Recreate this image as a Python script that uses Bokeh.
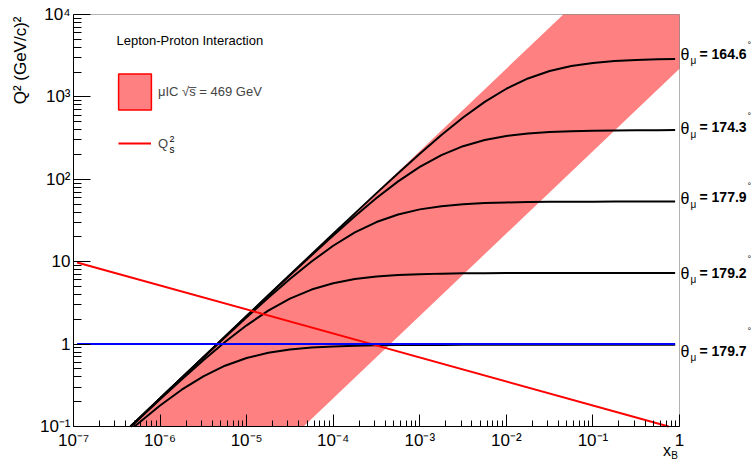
from bokeh.plotting import figure
from bokeh.models import (Range1d, FixedTicker, CustomJSTickFormatter, Label, Legend,
                          LegendItem, BoxAnnotation)
from bokeh.embed import file_html
from bokeh.resources import INLINE

# ---------------- data ----------------
# common x samples of the fixed-angle curves (after their first point at Q^2 = 0.1)
x_tail = [5.623e-7, 1.0e-6, 1.778e-6, 3.162e-6, 5.623e-6, 1.0e-5, 1.778e-5,
          3.162e-5, 5.623e-5, 1.0e-4, 1.778e-4, 3.162e-4, 5.623e-4, 1.0e-3, 1.778e-3,
          3.162e-3, 5.623e-3, 1.0e-2, 1.778e-2, 3.162e-2, 5.623e-2, 0.1, 0.1778,
          0.3162, 0.5623, 0.89]
theta_x_start = [4.546e-7, 4.547e-7, 4.555e-7, 4.609e-7, 5.063e-7]

q2_theta_164_6 = [0.1, 0.1237, 0.2200, 0.3910, 0.6954, 1.236, 2.198, 3.906, 6.939, 12.32,
                  21.84, 38.59, 67.94, 118.7, 204.6, 345.0, 562.0, 869.3, 1256, 1674, 2059,
                  2366, 2582, 2721, 2807, 2857, 2882]
q2_theta_174_3 = [0.1, 0.1237, 0.2199, 0.3907, 0.6944, 1.233, 2.188, 3.873, 6.836, 12.00,
                  20.84, 35.59, 59.17, 94.26, 141.4, 196.8, 252.3, 300.0, 335.6, 359.6, 374.7,
                  383.7, 389.0, 392.0, 393.8, 394.7, 395.2]
q2_theta_177_9 = [0.1, 0.1234, 0.2191, 0.3883, 0.6867, 1.209, 2.113, 3.646, 6.158, 10.05,
                  15.61, 22.63, 30.30, 37.44, 43.16, 47.22, 49.85, 51.47, 52.42, 52.97, 53.29,
                  53.47, 53.57, 53.63, 53.66, 53.68, 53.69]
q2_theta_179_2 = [0.1, 0.1216, 0.2136, 0.3712, 0.6351, 1.058, 1.691, 2.547, 3.562, 4.591,
                  5.481, 6.152, 6.607, 6.893, 7.066, 7.166, 7.224, 7.257, 7.276, 7.286, 7.292,
                  7.296, 7.298, 7.299, 7.299, 7.300, 7.300]
q2_theta_179_7 = [0.1, 0.1098, 0.1797, 0.2795, 0.4068, 0.5468, 0.6780, 0.7836, 0.8590,
                  0.9081, 0.9382, 0.9560, 0.9664, 0.9723, 0.9757, 0.9776, 0.9786, 0.9792,
                  0.9796, 0.9798, 0.9799, 0.9799, 0.9800, 0.9800, 0.9800, 0.9800, 0.9800]

theta_names = ["164.6", "174.3", "177.9", "179.2", "179.7"]
theta_series = [q2_theta_164_6, q2_theta_174_3, q2_theta_177_9, q2_theta_179_2, q2_theta_179_7]

# muIC acceptance band, corner points inside the plotted box
band_x = [4.546e-7, 0.04546, 1.0, 1.0, 4.546e-5]
band_q2 = [0.1, 1e4, 1e4, 2200.0, 0.1]

# saturation scale Q_s^2
qs_x = [1.1e-7, 0.75]
qs_q2 = [9.8, 0.1]

# Q^2 = 1 reference line
ref_x = [1.1e-7, 0.89]
ref_q2 = [1.0, 1.0]

x_ticks = [1e-7, 1e-6, 1e-5, 1e-4, 1e-3, 1e-2, 1e-1, 1.0]
x_tick_labels = ["10\u207b\u2077", "10\u207b\u2076", "10\u207b\u2075", "10\u207b\u2074",
                 "10\u207b\u00b3", "10\u207b\u00b2", "10\u207b\u00b9", "1"]
y_ticks = [0.1, 1.0, 10.0, 100.0, 1000.0, 10000.0]
y_tick_labels = ["10\u207b\u00b9", "1", "10", "10\u00b2", "10\u00b3", "10\u2074"]

# ---------------- layout / styling ----------------
FONT = "Liberation Sans"
W, H = 752, 461
BOX_L, BOX_R, BOX_T, BOX_B = 73, 679, 14, 426          # plotted box in pixels
XMIN, XMAX, YMIN, YMAX = x_ticks[0], x_ticks[-1], y_ticks[0], y_ticks[-1]
px_dec_x = (BOX_R - BOX_L) / 7.0
px_dec_y = (BOX_B - BOX_T) / 5.0
x_range = Range1d(XMIN / 10 ** (BOX_L / px_dec_x), XMAX * 10 ** ((W - BOX_R) / px_dec_x))
y_range = Range1d(YMIN / 10 ** ((H - BOX_B) / px_dec_y), YMAX * 10 ** (BOX_T / px_dec_y))

label_dy = [5.5, 3.1, 4.1, 0.0, -5.7]      # right-hand label shifts (px, up)
degree_dy = [9, 11.5, 11, 13.5, 20]        # degree sign above the digits (px)

p = figure(width=W, height=H, x_axis_type="log", y_axis_type="log",
           x_range=x_range, y_range=y_range,
           output_backend="svg", toolbar_location=None,
           min_border_left=0, min_border_right=0, min_border_top=0, min_border_bottom=0)
p.grid.visible = False
p.outline_line_color = None
p.background_fill_color = "white"
p.border_fill_color = "white"

minor_x = [k * t for t in x_ticks[:-1] for k in range(2, 10)]
minor_y = [k * t for t in y_ticks[:-1] for k in range(2, 10)]

fmt_code = """
const i = vals.findIndex(t => Math.abs(Math.log10(t) - Math.log10(tick)) < 1e-6);
return i >= 0 ? labs[i] : "";
"""
p.xaxis.ticker = FixedTicker(ticks=x_ticks, minor_ticks=minor_x)
p.xaxis.formatter = CustomJSTickFormatter(args=dict(vals=x_ticks, labs=x_tick_labels), code=fmt_code)
p.yaxis.ticker = FixedTicker(ticks=y_ticks, minor_ticks=minor_y)
p.yaxis.formatter = CustomJSTickFormatter(args=dict(vals=y_ticks, labs=y_tick_labels), code=fmt_code)
p.xaxis.fixed_location = YMIN
p.yaxis.fixed_location = XMIN
p.xaxis.bounds = (XMIN, XMAX)
p.yaxis.bounds = (YMIN, YMAX)

for ax, maj, mnr in ((p.xaxis, 12, 6), (p.yaxis, 17, 8)):
    ax.axis_label = None
    ax.axis_line_color = "black"
    ax.major_tick_line_color = "black"
    ax.minor_tick_line_color = "black"
    ax.major_tick_in = maj
    ax.major_tick_out = 0
    ax.minor_tick_in = mnr
    ax.minor_tick_out = 0
    ax.major_label_text_font = FONT
    ax.major_label_text_font_size = "17px"
    ax.major_label_text_color = "black"
p.xaxis.major_label_standoff = 4
p.yaxis.major_label_standoff = 3

# band
band_r = p.patch(band_x, band_q2, fill_color="#ff8080", fill_alpha=1.0, line_alpha=0)
# theta curves
for x0, s in zip(theta_x_start, theta_series):
    p.line([x0] + x_tail, s, line_color="black", line_width=2)
# saturation line and Q2=1 line
qs_r = p.line(qs_x, qs_q2, line_color="#ff0000", line_width=2)
p.line(ref_x, ref_q2, line_color="#0000ff", line_width=2)

# frame box
p.add_layout(BoxAnnotation(left=XMIN, right=XMAX, bottom=YMIN, top=YMAX,
                           fill_alpha=0, line_color="black", line_width=1))

# legend swatch (hidden copy of the band carrying the red border) and line entry
swatch_r = p.patch(band_x, band_q2, fill_color="#ff8080", line_color="#ff0000",
                   line_width=1.5, visible=False)
leg1 = Legend(items=[LegendItem(label="\u03bcIC \u221as\u0305 = 469 GeV", renderers=[swatch_r])],
              location=(114, H - 113.5), glyph_width=41, glyph_height=45,
              padding=0, margin=0, label_standoff=3,
              label_text_font=FONT, label_text_font_size="13px",
              background_fill_alpha=0, border_line_alpha=0)
leg2 = Legend(items=[LegendItem(label="Q", renderers=[qs_r])],
              location=(118, H - 153), glyph_width=33, glyph_height=20,
              padding=0, margin=0, label_standoff=7,
              label_text_font=FONT, label_text_font_size="13px",
              background_fill_alpha=0, border_line_alpha=0)
p.add_layout(leg1, "center")
p.add_layout(leg2, "center")


def lab(text, px, py, size, style="normal", align="left", angle=0.0, ax=XMIN, ay=YMAX,
        apx=BOX_L, apy=BOX_T):
    """Label at pixel (px, py), anchored on data point (ax, ay) located at pixel (apx, apy)."""
    p.add_layout(Label(x=ax, y=ay, x_offset=px - apx, y_offset=apy - py, text=text,
                       text_font=FONT, text_font_size=size, text_font_style=style,
                       text_align=align, text_baseline="middle", angle=angle,
                       text_color="black"))


lab("Lepton-Proton Interaction", 116, 40, "13px")
lab("2", 169, 138, "9px")
lab("s", 169, 149, "10px")

# y axis title (rotated, aligned to the top)
lab("Q\u00b2 (GeV/c)\u00b2", 20, 16, "17px", align="right", angle=1.5707963)
# x axis title
lab("x", 666.5, 450, "16px", align="center")
lab("B", 674, 454.5, "10px", align="center")

# right-hand theta labels (anchored on the plateau of each curve at the right edge)
for name, s, dy, ddy in zip(theta_names, theta_series, label_dy, degree_dy):
    yv = s[-1]
    lab("\u03b8", 680, -dy + 1, "16px", ax=XMAX, ay=yv, apx=BOX_R, apy=0)
    lab("\u03bc", 690, -dy + 7, "10px", ax=XMAX, ay=yv, apx=BOX_R, apy=0)
    lab("= " + name, 699, -dy, "14px", style="bold", ax=XMAX, ay=yv, apx=BOX_R, apy=0)
    lab("\u00b0", 747, -dy - ddy, "9px", ax=XMAX, ay=yv, apx=BOX_R, apy=0)

open("out.html", "w").write(file_html(p, INLINE))
